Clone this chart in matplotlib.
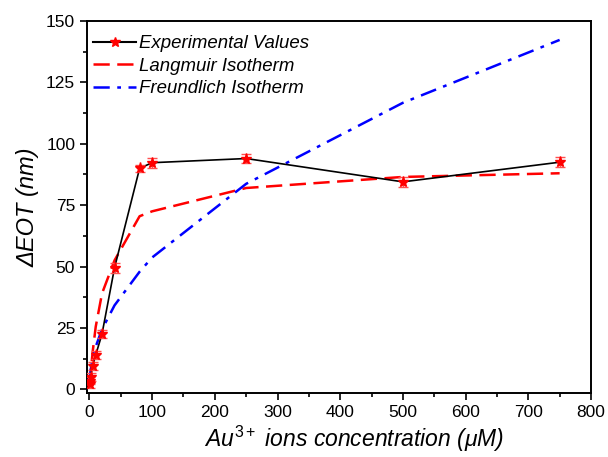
import numpy as np
import matplotlib
matplotlib.use("Agg")
import matplotlib.pyplot as plt
from matplotlib.ticker import MultipleLocator

plt.rcParams["font.family"] = ["Liberation Sans", "DejaVu Sans"]
plt.rcParams["mathtext.fontset"] = "custom"
plt.rcParams["mathtext.rm"] = "Liberation Sans"
plt.rcParams["mathtext.it"] = "Liberation Sans:italic"

# Au3+ concentration (uM) and measured EOT shift (nm)
conc = [0.5, 1, 2, 5, 10, 20, 40, 80, 100, 250, 500, 750]
eot_exp = [2.0, 3.5, 5.0, 9.5, 14.0, 22.5, 49.5, 90.0, 92.3, 94.0, 84.5, 92.5]
eot_err = [1.5, 1.5, 1.5, 1.5, 1.5, 1.5, 2.0, 1.5, 2.0, 2.0, 2.0, 2.0]

# fitted isotherms evaluated at the same concentrations
eot_langmuir = [1.8, 3.5, 6.8, 15.0, 25.5, 39.0, 52.5, 70.5, 72.5, 82.0, 86.5, 88.0]
eot_freundlich = [4.1, 5.7, 8.0, 12.4, 17.4, 24.4, 34.2, 47.9, 53.7, 83.7, 116.7, 142.3]

fig = plt.figure(figsize=(6.08, 4.57), dpi=100)
ax = fig.add_axes([0.143, 0.14, 0.829, 0.814])

ax.plot(conc, eot_langmuir, color="red", ls=(0, (6.5, 3)), lw=1.8,
        label="Langmuir Isotherm", zorder=2)
ax.plot(conc, eot_freundlich, color="blue", ls=(0, (6.5, 3, 1.5, 3)), lw=1.8,
        label="Freundlich Isotherm", zorder=2)
ax.plot(conc, eot_exp, color="black", lw=1.2, zorder=3)
ax.errorbar(conc, eot_exp, yerr=eot_err, fmt="none", ecolor="#ff5050",
            elinewidth=1.0, capsize=3.5, capthick=1.0, zorder=4)
ax.plot(conc, eot_exp, ls="none", marker="*", ms=8, color="red", zorder=5)

# legend proxy for line + marker
exp_handle, = ax.plot([], [], color="black", lw=1.5, marker="*", ms=7,
                      mfc="red", mec="red", label="Experimental Values")
handles = [exp_handle] + ax.get_lines()[:2]
leg = ax.legend(handles=handles, loc="upper left", bbox_to_anchor=(-0.006, 0.987),
                frameon=False, handlelength=2.3, handletextpad=0.15,
                labelspacing=0.3, borderaxespad=0.2, borderpad=0.3, numpoints=1,
                prop={"style": "italic", "size": 13.4})

ax.set_xlim(-4, 800)
ax.set_ylim(-1.5, 150)
ax.xaxis.set_major_locator(MultipleLocator(100))
ax.xaxis.set_minor_locator(MultipleLocator(50))
ax.yaxis.set_major_locator(MultipleLocator(25))
ax.yaxis.set_minor_locator(MultipleLocator(12.5))
ax.tick_params(which="both", direction="out", top=False, right=False,
               labelsize=12.5, width=1.2)
ax.tick_params(which="major", length=5)
ax.tick_params(which="minor", length=3)
for s in ax.spines.values():
    s.set_linewidth(1.4)

ax.set_xlabel(r"$\mathit{Au}^{\mathrm{3+}}$ ions concentration (μM)",
              fontsize=16.5, style="italic", labelpad=3)
ax.xaxis.label.set_x(0.53)
ax.set_ylabel("ΔEOT (nm)", fontsize=17, style="italic", labelpad=5)

fig.savefig("out.png", dpi=100)
